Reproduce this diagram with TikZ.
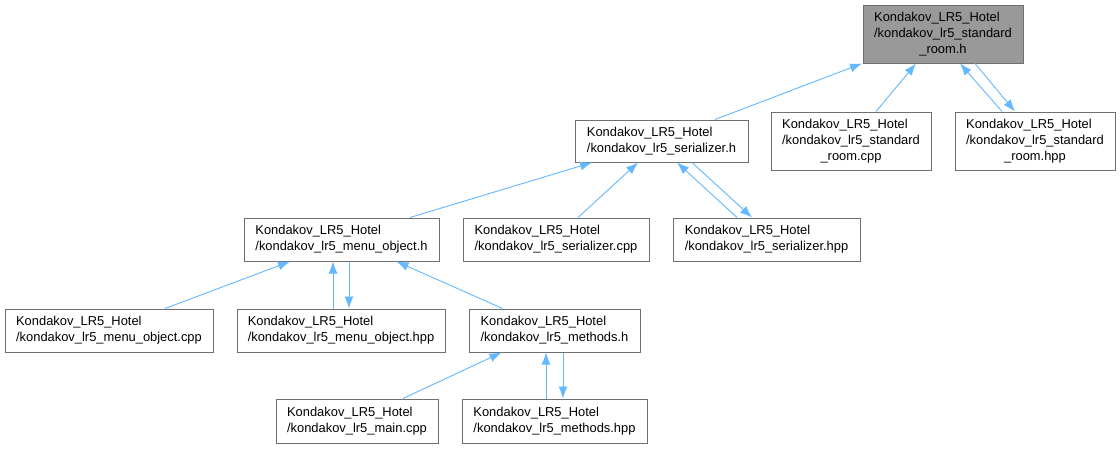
\documentclass[tikz,border=0pt]{standalone}
\usepackage{fontspec}
\setmainfont{Liberation Sans}
\usetikzlibrary{arrows.meta}
\definecolor{boxline}{HTML}{707070}
\definecolor{rootfill}{HTML}{999999}
\definecolor{edgecol}{HTML}{63B8FF}
\begin{document}
\begin{tikzpicture}[x=1pt,y=-1pt,
  file/.style={draw=boxline,line width=1pt,fill=white,rectangle,inner sep=0pt,
    minimum height=43pt,align=left,font=\fontsize{12.9}{16}\selectfont},
  tall/.style={file,minimum height=58pt},
  root/.style={tall,fill=rootfill},
  edge/.style={draw=edgecol,line width=0.9pt,-{Latex[length=12pt,width=9pt]}}]
\useasboundingbox (0,0) rectangle (1120,448);
\fill[white] (0,0) rectangle (1120,448);
\newcommand{\lastc}[1]{\multicolumn{1}{@{}c@{}}{#1}}
\node[root,minimum width=160pt] (A) at (943,34) {\begin{tabular}{@{}l@{}}Kondakov\_LR5\_Hotel\\/kondakov\_lr5\_standard\\\lastc{\_room.h}\end{tabular}};
\node[file,minimum width=173pt,minimum height=42pt] (B) at (661.5,141) {Kondakov\_LR5\_Hotel\\/kondakov\_lr5\_serializer.h};
\node[tall,minimum width=160pt] (C) at (851,141) {\begin{tabular}{@{}l@{}}Kondakov\_LR5\_Hotel\\/kondakov\_lr5\_standard\\\lastc{\_room.cpp}\end{tabular}};
\node[tall,minimum width=160pt] (D) at (1035,141) {\begin{tabular}{@{}l@{}}Kondakov\_LR5\_Hotel\\/kondakov\_lr5\_standard\\\lastc{\_room.hpp}\end{tabular}};
\node[file,minimum width=195pt] (E) at (341.5,239.5) {Kondakov\_LR5\_Hotel\\/kondakov\_lr5\_menu\_object.h};
\node[file,minimum width=186pt] (F) at (556,239.5) {Kondakov\_LR5\_Hotel\\/kondakov\_lr5\_serializer.cpp};
\node[file,minimum width=187pt] (G) at (766.5,239.5) {Kondakov\_LR5\_Hotel\\/kondakov\_lr5\_serializer.hpp};
\node[file,minimum width=208pt] (H) at (109,330.5) {Kondakov\_LR5\_Hotel\\/kondakov\_lr5\_menu\_object.cpp};
\node[file,minimum width=208pt] (I) at (341,330.5) {Kondakov\_LR5\_Hotel\\/kondakov\_lr5\_menu\_object.hpp};
\node[file,minimum width=171pt] (J) at (554.5,330.5) {Kondakov\_LR5\_Hotel\\/kondakov\_lr5\_methods.h};
\node[file,minimum width=162pt,minimum height=44pt] (K) at (357,421) {Kondakov\_LR5\_Hotel\\/kondakov\_lr5\_main.cpp};
\node[file,minimum width=185pt,minimum height=44pt] (L) at (554.5,421) {Kondakov\_LR5\_Hotel\\/kondakov\_lr5\_methods.hpp};
% edges
\draw[edge] ([xshift=53.5pt]B.north) -- ([xshift=-81pt]A.south);
\draw[edge] ([xshift=25pt]C.north) -- ([xshift=-27pt]A.south);
\draw[edge] ([xshift=-33pt]D.north) -- ([xshift=17pt]A.south);
\draw[edge] ([xshift=32pt]A.south) -- ([xshift=-20pt]D.north);
\draw[edge] ([xshift=68.5pt]E.north) -- ([xshift=-69.5pt]B.south);
\draw[edge] ([xshift=22pt]F.north) -- ([xshift=-23.5pt]B.south);
\draw[edge] ([xshift=-29.5pt]G.north) -- ([xshift=15.5pt]B.south);
\draw[edge] ([xshift=30.5pt]B.south) -- ([xshift=-14.5pt]G.north);
\draw[edge] ([xshift=56pt]H.north) -- ([xshift=-51.5pt]E.south);
\draw[edge] ([xshift=-8pt]I.north) -- ([xshift=-8.5pt]E.south);
\draw[edge] ([xshift=7.5pt]E.south) -- ([xshift=8pt]I.north);
\draw[edge] ([xshift=-52pt]J.north) -- ([xshift=55pt]E.south);
\draw[edge] ([xshift=46pt]K.north) -- ([xshift=-53pt]J.south);
\draw[edge] ([xshift=-8.5pt]L.north) -- ([xshift=-8.5pt]J.south);
\draw[edge] ([xshift=8.5pt]J.south) -- ([xshift=8.5pt]L.north);
\end{tikzpicture}
\end{document}
